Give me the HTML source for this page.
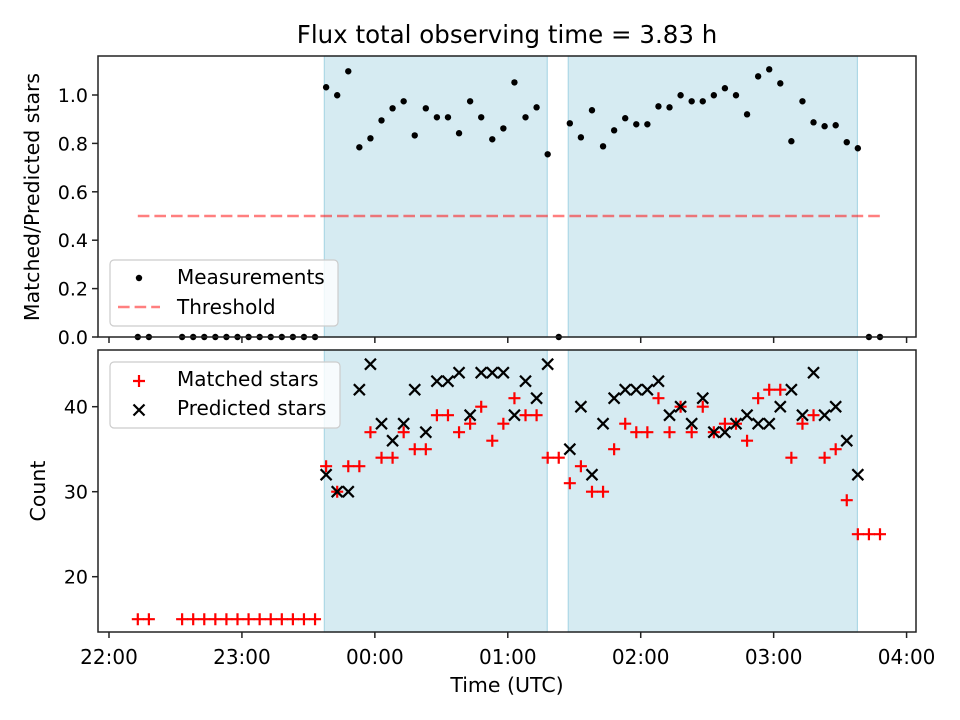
<!DOCTYPE html>
<html><head><meta charset="utf-8"><style>
html,body{margin:0;padding:0;background:#fff;}
svg{display:block;font-family:"DejaVu Sans","Liberation Sans",sans-serif;}
</style></head><body>
<svg id="chart" width="960" height="720" viewBox="0 0 960 720" xmlns="http://www.w3.org/2000/svg">
<rect width="960" height="720" fill="#fff"/>
<text x="507" y="43" font-size="24.5" text-anchor="middle" fill="#000">Flux total observing time = 3.83 h</text>
<g id="topPanel"></g>
<g id="botPanel"></g>
<text transform="translate(39,197) rotate(-90)" font-size="20.5" text-anchor="middle">Matched/Predicted stars</text>
<text transform="translate(45,491) rotate(-90)" font-size="20.5" text-anchor="middle">Count</text>
<text x="507" y="692" font-size="20.5" text-anchor="middle">Time (UTC)</text>
</svg>
<script>
// minutes after 22:00
const times = [13,18,33,38,43,48,53,58,63,68,73,78,83,88,93,98,103,108,113,118,123,128,133,138,143,148,153,158,163,168,173,178,183,188,193,198,203,208,213,218,223,228,233,238,243,248,253,258,263,268,273,278,283,288,293,298,303,308,313,318,323,328,333,338,343,348];
const ratio = [0,0,0,0,0,0,0,0,0,0,0,0,0,0,0,1.032,0.999,1.098,0.784,0.821,0.895,0.945,0.974,0.833,0.945,0.908,0.908,0.842,0.974,0.908,0.817,0.862,1.052,0.908,0.949,0.755,0,0.883,0.825,0.937,0.788,0.854,0.904,0.879,0.879,0.953,0.949,0.999,0.974,0.974,0.999,1.028,0.999,0.920,1.077,1.106,1.048,0.809,0.974,0.887,0.871,0.875,0.805,0.780,0,0];
const matched = [15,15,15,15,15,15,15,15,15,15,15,15,15,15,15,33,30,33,33,37,34,34,37,35,35,39,39,37,38,40,36,38,41,39,39,34,34,31,33,30,30,35,38,37,37,41,37,40,37,40,37,38,38,36,41,42,42,34,38,39,34,35,29,25,25,25];
const predicted = [null,null,null,null,null,null,null,null,null,null,null,null,null,null,null,32,30,30,42,45,38,36,38,42,37,43,43,44,39,44,44,44,39,43,41,45,null,35,40,32,38,41,42,42,42,43,39,40,38,41,37,37,38,39,38,38,40,42,39,44,39,40,36,32,null,null];
const spans = [[97.2,197.8],[207.3,337.8]];
const threshold = 0.5;
const xTickLabels = ["22:00","23:00","00:00","01:00","02:00","03:00","04:00"];
const topYTicks = [0.0,0.2,0.4,0.6,0.8,1.0];
const botYTicks = [20,30,40];

const NS="http://www.w3.org/2000/svg";
const L=98,R=916;
const T1=56,B1=337,T2=350,B2=632;
const xs = m => 109 + m*132.93/60;
const y1 = v => 337 - v*242;
const y2 = v => 406.7 - (v-40)*8.5;
function mk(tag,attrs,parent){const e=document.createElementNS(NS,tag);for(const k in attrs)e.setAttribute(k,attrs[k]);parent.appendChild(e);return e;}
const topG=document.getElementById('topPanel'), botG=document.getElementById('botPanel');

function panel(g,T,B,isTop){
  for(const s of spans){
    const r=mk('rect',{x:xs(s[0]),y:T,width:xs(s[1])-xs(s[0]),height:B-T,fill:'#add8e6','fill-opacity':0.5,stroke:'#add8e6','stroke-width':1.2},g);
    
    
  }
  for(let i=0;i<xTickLabels.length;i++){
    const x=xs(i*60);
    const t=mk('line',{x1:x,x2:x,y1:B,y2:B+6,stroke:'#222','stroke-width':1.5},g);
    
    
    if(!isTop){
      const tx=mk('text',{x:x,y:B+32,'font-size':20,'text-anchor':'middle'},g);
      tx.textContent=xTickLabels[i];
      
      
    }
  }
}
panel(topG,T1,B1,true);
panel(botG,T2,B2,false);

for(const v of topYTicks){
  const y=y1(v);
  mk('line',{x1:L-6,x2:L,y1:y,y2:y,stroke:'#222','stroke-width':1.5},topG);
  const t=mk('text',{x:L-10,y:y+7,'font-size':19,'text-anchor':'end'},topG);
  t.textContent=v.toFixed(1);
  
  
}
for(const v of botYTicks){
  const y=y2(v);
  mk('line',{x1:L-6,x2:L,y1:y,y2:y,stroke:'#222','stroke-width':1.5},botG);
  const t=mk('text',{x:L-10,y:y+7,'font-size':19,'text-anchor':'end'},botG);
  t.textContent=String(v);
  
  
}

const th=mk('line',{x1:xs(times[0]),x2:xs(times[times.length-1]),y1:y1(threshold),y2:y1(threshold),stroke:'#ff0000','stroke-opacity':0.5,'stroke-width':2.6,'stroke-dasharray':'11.6 5'},topG);



ratio.forEach((v,i)=>{
  const c=mk('circle',{cx:xs(times[i]),cy:y1(v),r:3.2,fill:'#000'},topG);
  
  
});

function plus(g,x,y){
  return mk('path',{d:`M${x-6},${y}H${x+6}M${x},${y-6}V${y+6}`,stroke:'#ff0000','stroke-width':2.2,fill:'none'},g);
}
function cross(g,x,y){
  return mk('path',{d:`M${x-5.5},${y-5.5}L${x+5.5},${y+5.5}M${x-5.5},${y+5.5}L${x+5.5},${y-5.5}`,stroke:'#000','stroke-width':2.2,fill:'none'},g);
}
matched.forEach((v,i)=>{
  if(v==null) return;
  const p=plus(botG,xs(times[i]),y2(v));
  
  
});
predicted.forEach((v,i)=>{
  if(v==null) return;
  const p=cross(botG,xs(times[i]),y2(v));
  
  
});

const f1=mk('rect',{x:L,y:T1,width:R-L,height:B1-T1,fill:'none',stroke:'#222','stroke-width':1.5},topG);


const f2=mk('rect',{x:L,y:T2,width:R-L,height:B2-T2,fill:'none',stroke:'#222','stroke-width':1.5},botG);



const lg1=mk('g',{},topG);


mk('rect',{x:110,y:260,width:228,height:66,rx:4,fill:'#fff','fill-opacity':0.8,stroke:'#ccc','stroke-width':1.2},lg1);
mk('circle',{cx:139,cy:278,r:3.2,fill:'#000'},lg1);
let t=mk('text',{x:177,y:284,'font-size':20},lg1);t.textContent='Measurements';


mk('line',{x1:118,x2:160,y1:307,y2:307,stroke:'#ff0000','stroke-opacity':0.5,'stroke-width':2.6,'stroke-dasharray':'11.6 5'},lg1);
t=mk('text',{x:177,y:314,'font-size':20},lg1);t.textContent='Threshold';



const lg2=mk('g',{},botG);


mk('rect',{x:110,y:362,width:230,height:66,rx:4,fill:'#fff','fill-opacity':0.8,stroke:'#ccc','stroke-width':1.2},lg2);
plus(lg2,139,381);
t=mk('text',{x:177,y:386,'font-size':20},lg2);t.textContent='Matched stars';


cross(lg2,139,410);
t=mk('text',{x:177,y:415,'font-size':20},lg2);t.textContent='Predicted stars';


</script>
</body></html>
